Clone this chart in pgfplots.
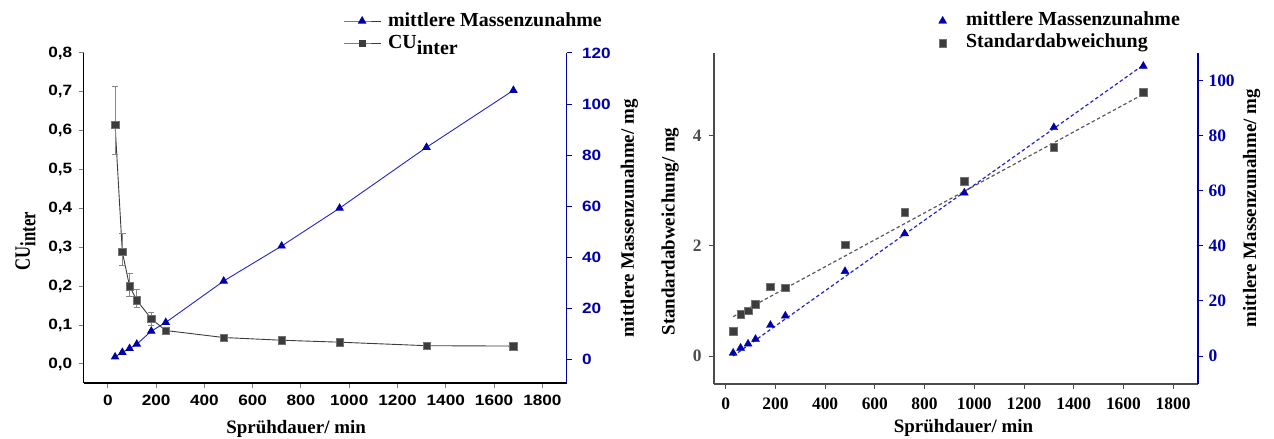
\documentclass[border=0pt]{standalone}
\usepackage{fontspec}
\setmainfont{Liberation Serif}
\setsansfont{Liberation Sans}
\newfontfamily\ticksans[FakeStretch=1.15]{Liberation Sans}
\usepackage{graphicx}
\usepackage{pgfplots}
\usepackage{pgfplotstable}
\pgfplotsset{compat=1.18}

\definecolor{massblue}{RGB}{0,0,170}
\definecolor{lineblue}{RGB}{35,35,205}
\definecolor{cugray}{RGB}{60,60,60}
\definecolor{errgray}{RGB}{135,135,135}
\definecolor{axgray}{RGB}{75,75,75}

% CU_inter with error bars (upper / lower)
\pgfplotstableread{
t     cu     ep     em
30    0.615  0.098  0.075
60    0.288  0.047  0.034
90    0.200  0.032  0.026
120   0.164  0.027  0.018
180   0.116  0.017  0.016
240   0.086  0.008  0.008
480   0.068  0.004  0.004
720   0.061  0.003  0.003
960   0.056  0.003  0.003
1320  0.047  0.002  0.002
1680  0.046  0.002  0.002
}\cutable

% mean mass gain / mg
\pgfplotstableread{
t     mass
30    1.1
60    2.9
90    4.4
120   6.1
180   11.2
240   14.6
480   30.8
720   44.5
960   59.3
1320  83.1
1680  105.4
}\masstable

% standard deviation / mg
\pgfplotstableread{
t     sd
30    0.455
60    0.76
90    0.82
120   0.945
180   1.26
240   1.24
480   2.02
720   2.61
960   3.18
1320  3.79
1680  4.79
}\sdtable

% linear fits
\pgfplotstableread{
t     sd
30    0.715
1680  4.76
}\sdfit
\pgfplotstableread{
t     mass
30    0.0
1680  105.8
}\massfit

\pgfplotsset{
  panelA/.style={at={(83.7bp,56bp)}, anchor=south west, scale only axis,
    width=482.8bp, height=330bp, xmin=-100, xmax=1900},
  panelB/.style={at={(714bp,55bp)}, anchor=south west, scale only axis,
    width=484bp, height=330.7bp, xmin=-47, xmax=1900},
  common/.style={tick align=outside, major tick length=5bp, minor tick num=0,
    /pgf/number format/assume math mode=true,
    /pgf/number format/1000 sep={},
    scaled ticks=false, clip=false,
    xtick={0,200,...,1800},
    axis line style={line width=1.1bp}, tick style={line width=1bp},
    label style={font=\fontsize{19}{19}\selectfont\bfseries}},
  sansticks/.style={ticklabel style={font=\fontsize{15}{15}\selectfont\ticksans\bfseries}},
  serifticks/.style={ticklabel style={font=\fontsize{17.5}{17.5}\selectfont\bfseries}},
  legfont/.style={legend style={font=\fontsize{20}{20}\selectfont\bfseries,
    draw=none, fill=none, inner sep=0pt, row sep=4bp,
    nodes={inner sep=0pt, text height=14bp, text depth=4bp, anchor=west},
    legend cell align=left}},
}

\begin{document}
\begin{tikzpicture}
\path[use as bounding box] (0,0) rectangle (1274bp,439bp);

% ---------- left panel: CU_inter ----------
\begin{axis}[panelA, common, sansticks,
  ymin=-0.049, ymax=0.8,
  axis x line*=bottom, axis y line*=left,
  ytick={0,0.1,0.2,0.3,0.4,0.5,0.6,0.7,0.8},
  yticklabel style={xshift=-3bp, /pgf/number format/.cd, fixed, fixed zerofill, precision=1, use comma},
  xticklabel style={yshift=-4bp},
  xlabel={Sprühdauer/ min},
  xlabel style={at={(axis description cs:0.44,-0.1545)}, anchor=base},
  ylabel={\scalebox{0.76}[1]{CU\raisebox{-5.5bp}{inter}}},
  ylabel style={at={(axis description cs:-0.1205,0.43)}, anchor=center,
    font=\fontsize{22}{22}\selectfont\bfseries},
]
\addplot[cugray, line width=0.9bp, mark=square*, mark size=3.7bp,
  mark options={fill=cugray, draw=black!55, line width=0.5bp},
  error bars/.cd, y dir=both, y explicit,
  error bar style={errgray, line width=0.8bp},
  error mark options={errgray, rotate=90, mark size=3.2bp, line width=0.8bp}]
  table[x=t, y=cu, y error plus=ep, y error minus=em] {\cutable};
\end{axis}

% ---------- left panel: mass gain ----------
\begin{axis}[panelA, common, sansticks,
  ymin=-9.1, ymax=120,
  axis x line=none, axis y line*=right,
  ytick={0,20,...,120},
  axis line style={massblue}, tick style={massblue},
  yticklabel style={massblue, xshift=7bp},
  ylabel={mittlere Massenzunahme/ mg},
  ylabel style={at={(axis description cs:1.1305,0.498)}, anchor=center, black},
  legfont,
  legend style={at={(axis description cs:0.537,1.0636)}, anchor=west, column sep=7bp},
  legend image code/.code={\draw[mark repeat=2, mark phase=2, #1]
    plot coordinates {(0bp,0bp) (18.5bp,0bp) (37bp,0bp)};},
]
\addplot[lineblue, line width=0.9bp, mark=triangle*, mark size=4.1bp,
  mark options={fill=massblue, draw=massblue}]
  table[x=t, y=mass] {\masstable};
\addlegendentry{mittlere Massenzunahme}
\addlegendimage{cugray, line width=0.9bp, mark=square*, mark size=3bp,
  mark options={fill=cugray, draw=cugray}}
\addlegendentry{CU\raisebox{-6bp}{inter}}
\end{axis}

% ---------- right panel: standard deviation ----------
\begin{axis}[panelB, common, serifticks,
  ymin=-0.509, ymax=5.503,
  axis x line*=bottom, axis y line*=left,
  ytick={0,2,4},
  axis line style={axgray}, tick style={axgray},
  yticklabel style={axgray, xshift=-4bp},
  xticklabel style={yshift=-5bp},
  xlabel={Sprühdauer/ min},
  xlabel style={at={(axis description cs:0.5155,-0.148)}, anchor=base},
  ylabel={Standardabweichung/ mg},
  ylabel style={at={(axis description cs:-0.0905,0.461)}, anchor=center},
]
\addplot[cugray!85, line width=1.2bp, dash pattern=on 3.5bp off 2.5bp, forget plot]
  table[x=t, y=sd] {\sdfit};
\addplot[only marks, mark=square*, mark size=3.8bp,
  mark options={fill=cugray, draw=black!55, line width=0.5bp}]
  table[x=t, y=sd] {\sdtable};
\end{axis}

% ---------- right panel: mass gain ----------
\begin{axis}[panelB, common, serifticks,
  ymin=-10.18, ymax=110.06,
  axis x line=none, axis y line*=right,
  ytick={0,20,...,100},
  axis line style={massblue}, tick style={massblue},
  yticklabel style={massblue, xshift=2bp},
  ylabel={mittlere Massenzunahme/ mg},
  ylabel style={at={(axis description cs:1.1107,0.531)}, anchor=center, black},
  legfont,
  legend style={at={(axis description cs:0.4638,1.0644)}, anchor=west, column sep=19.5bp},
  legend image code/.code={\draw[#1] plot coordinates {(0bp,0bp)};},
]
\addplot[lineblue, line width=1.2bp, dash pattern=on 3.5bp off 2.5bp, forget plot]
  table[x=t, y=mass] {\massfit};
\addplot[only marks, mark=triangle*, mark size=4.6bp,
  mark options={fill=massblue, draw=massblue}]
  table[x=t, y=mass] {\masstable};
\addlegendentry{mittlere Massenzunahme}
\addlegendimage{only marks, mark=square*, mark size=3.8bp,
  mark options={fill=cugray, draw=black!55, line width=0.5bp}}
\addlegendentry{Standardabweichung}
\end{axis}
\end{tikzpicture}
\end{document}
